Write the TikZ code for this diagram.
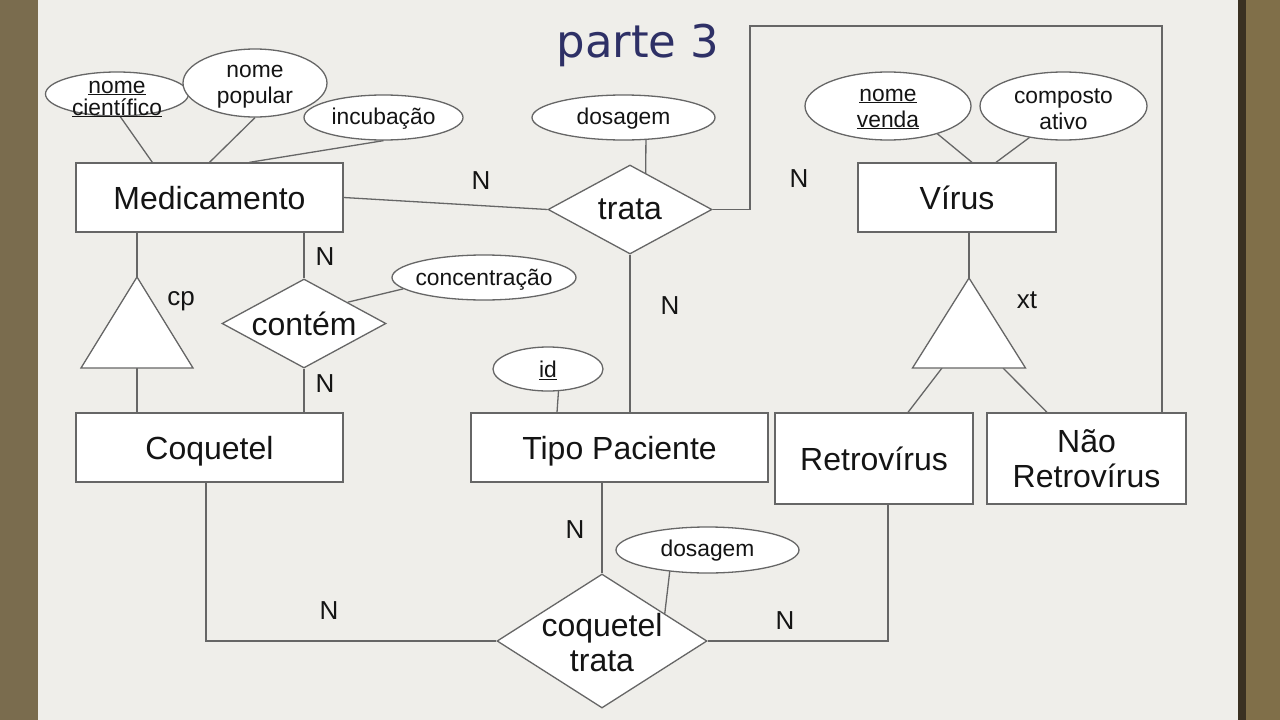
\documentclass[tikz,border=0pt]{standalone}
\usepackage{fontspec}
\setmainfont{Liberation Sans}
\newfontfamily\titlefont{DejaVu Sans}
\usetikzlibrary{shapes.geometric,calc}
\pgfdeclarelayer{back}
\pgfdeclarelayer{bg}
\pgfsetlayers{back,bg,main}
\definecolor{lc}{HTML}{666666}
\definecolor{slide}{HTML}{EFEEEA}
\definecolor{leftstrip}{HTML}{7A6C4E}
\definecolor{rightstrip}{HTML}{806F49}
\definecolor{rightedge}{HTML}{3A3122}
\definecolor{titlec}{HTML}{2E3066}
\definecolor{txt}{HTML}{141414}
\tikzset{
 ent/.style={draw=lc, fill=white, line width=1.3pt, inner sep=0pt, text=txt, font=\fontsize{32}{35}\selectfont, align=center},
 oneline/.style={text height=23pt, text depth=0pt},
 attr/.style={ellipse, draw=lc, fill=white, line width=1.3pt, inner sep=0pt},
 stxt/.style={text=txt, font=\fontsize{22.8}{26}\selectfont, align=center, inner sep=0pt},
 rel/.style={diamond, draw=lc, fill=white, line width=1.3pt, inner sep=0pt},
 reltxt/.style={text=txt, font=\fontsize{32}{35}\selectfont, align=center, inner sep=0pt},
 card/.style={text=txt, font=\fontsize{26}{28}\selectfont, inner sep=0pt},
 conn/.style={draw=lc, line width=1.3pt},
 tri/.style={draw=lc, fill=white, line width=1.3pt, line join=miter},
}
\begin{document}
\begin{tikzpicture}[x=1pt,y=-1pt]
\useasboundingbox (0,0) rectangle (1280,720);
\begin{pgfonlayer}{back}
 \fill[slide] (0,0) rectangle (1280,720);
 \fill[leftstrip] (0,0) rectangle (38,720);
 \fill[rightstrip] (1238,0) rectangle (1280,720);
 \fill[rightedge] (1238,0) rectangle (1246,720);
\end{pgfonlayer}

% title
\node[font=\titlefont\fontsize{45}{50}\selectfont, text=titlec, anchor=base] (title) at (638,57) {parte 3};

% entities
\node[ent, oneline, minimum width=267pt, minimum height=69pt] (med) at (209.5,197.5) {Medicamento};
\node[ent, oneline, minimum width=267pt, minimum height=69pt] (coq) at (209.5,447.5) {Coquetel};
\node[ent, oneline, minimum width=297pt, minimum height=69pt] (tp) at (619.5,447.5) {Tipo Paciente};
\node[ent, oneline, minimum width=198pt, minimum height=69pt] (vir) at (957,197.5) {Vírus};
\node[ent, oneline, minimum width=198pt, minimum height=91pt] (rv) at (874,458.5) {Retrovírus};
\node[ent, minimum width=199pt, minimum height=91pt] (nrv) at (1086.5,458.5) {Não\\Retrovírus};

% attributes
\node[attr, minimum width=143pt, minimum height=44pt, label={[stxt, font=\fontsize{22.8}{22}\selectfont, yshift=-5pt]center:{\underline{nome}\\\underline{científico}}}] (nc) at (117,94) {};
\node[attr, minimum width=144pt, minimum height=68pt, label={[stxt, yshift=-3.5pt]center:{nome\\popular}}] (np) at (255,83) {};
\node[attr, minimum width=159pt, minimum height=45pt, label={[stxt, yshift=-1pt]center:{incubação}}] (inc) at (383.5,117.5) {};
\node[attr, minimum width=183pt, minimum height=45pt, label={[stxt, yshift=-1pt]center:{dosagem}}] (dos1) at (623.5,117.5) {};
\node[attr, minimum width=166pt, minimum height=68pt, label={[stxt, yshift=-3pt]center:{\underline{nome}\\\underline{venda}}}] (nv) at (888,106) {};
\node[attr, minimum width=167pt, minimum height=68pt, label={[stxt, yshift=-3pt]center:{composto\\ativo}}] (ca) at (1063.5,106) {};
\node[attr, minimum width=184pt, minimum height=45pt, label={[stxt, yshift=-2pt]center:{concentração}}] (conc) at (484,277.5) {};
\node[attr, minimum width=110pt, minimum height=44pt, label={[stxt, yshift=-1pt]center:{\underline{id}}}] (id) at (548,369) {};
\node[attr, minimum width=183pt, minimum height=46pt, label={[stxt, yshift=-1pt]center:{dosagem}}] (dos2) at (707.5,550) {};

% relationships
\node[rel, minimum width=164pt, minimum height=89pt] (trata) at (630,209.5) {};
\node[reltxt] at (trata) {trata};
\node[rel, minimum width=164pt, minimum height=89pt] (contem) at (304,323.5) {};
\node[reltxt] at (contem) {contém};
\node[rel, minimum width=210pt, minimum height=134pt] (ct) at (602,641) {};
\node[reltxt] at ($(ct)+(0,1.5)$) {coquetel\\trata};

% specialization triangles
\coordinate (cpA) at (137,277);
\coordinate (cpB) at (137,368);
\draw[tri] (cpA) -- ($(cpB)+(-56,0)$) -- ($(cpB)+(56,0)$) -- cycle;
\coordinate (xtA) at (969,278);
\coordinate (xtB) at (969,368);
\draw[tri] (xtA) -- ($(xtB)+(-56.5,0)$) -- ($(xtB)+(56.5,0)$) -- cycle;
\coordinate (xtL) at (942,368);
\coordinate (xtR) at (1003,368);

% path corners
\coordinate (c1) at (750,26);
\coordinate (c2) at (1162,26);

\begin{pgfonlayer}{bg}
 % attribute links
 \draw[conn] ($(nc.center)+(0,18)$) -- ([xshift=77pt]med.north west);
 \draw[conn] (np.south) -- (med.north);
 \draw[conn] (inc.south) -- ([xshift=174pt]med.north west);
 \draw[conn] ($(dos1.center)+(22.5,10)$) -- ($(trata.center)+(15.5,0)$);
 \draw[conn] ($(nv.center)+(46,25)$) -- ([xshift=15pt]vir.north);
 \draw[conn] ($(ca.center)+(-32,30)$) -- ([xshift=39pt]vir.north);
 \draw[conn] (conc.188) -- (contem.26);
 \draw[conn] ($(id.center)+(11,15)$) -- ([xshift=-62.5pt]tp.north);
 \draw[conn] ($(dos2.center)+(-37,15)$) -- ($(ct.center)+(62,-21)$);
 % relationship links
 \draw[conn] (med.east) -- (trata.west);
 \draw[conn] (trata.east) -| (c1) -- (c2) -- (c2 |- nrv.north);
 \draw[conn] (trata.south) -- (trata.south |- tp.north);
 \draw[conn] (contem.north |- med.south) -- (contem.north);
 \draw[conn] (contem.south) -- (contem.south |- coq.north);
 \draw[conn] ([xshift=-3.5pt]coq.south) |- (ct.west);
 \draw[conn] (ct.north |- tp.south) -- (ct.north);
 \draw[conn] ([xshift=14pt]rv.south) |- (ct.east);
 % specialization links
 \draw[conn] (cpA |- med.south) -- (cpA);
 \draw[conn] (cpB) -- (cpB |- coq.north);
 \draw[conn] (xtA |- vir.south) -- (xtA);
 \draw[conn] (xtL) -- ([xshift=34pt]rv.north);
 \draw[conn] (xtR) -- ([xshift=-39.5pt]nrv.north);
\end{pgfonlayer}

% cardinalities and labels
\node[card] (n1) at (481,181) {N};
\node[card] (n2) at (799,179) {N};
\node[card] (n3) at (325,257) {N};
\node[card] (n4) at (325,384) {N};
\node[card] (n5) at (670,306) {N};
\node[card] (n6) at (575,530) {N};
\node[card] (n7) at (329,611) {N};
\node[card] (n8) at (785,621) {N};
\node[card] (cp) at (181,301) {cp};
\node[card] (xt) at (1027,300) {xt};
\end{tikzpicture}
\end{document}
